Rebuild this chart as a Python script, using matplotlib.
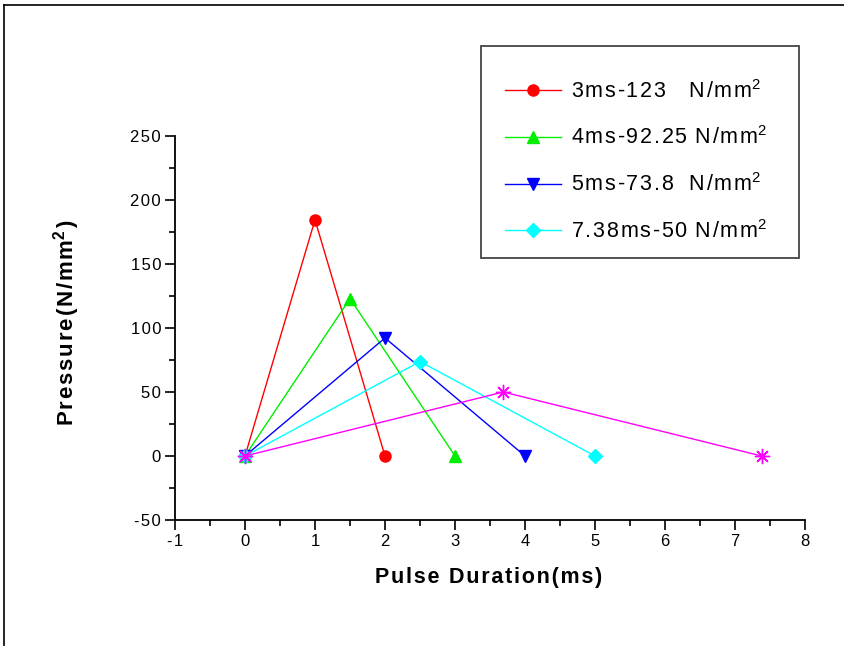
import matplotlib
matplotlib.use("Agg")
import matplotlib.pyplot as plt
from matplotlib.lines import Line2D
from matplotlib.patches import Rectangle
from matplotlib.ticker import MultipleLocator, FuncFormatter

plt.rcParams["font.family"] = ["Liberation Sans", "DejaVu Sans"]
plt.rcParams["mathtext.fontset"] = "custom"
plt.rcParams["mathtext.rm"] = "Liberation Sans"
plt.rcParams["mathtext.it"] = "Liberation Sans"
plt.rcParams["mathtext.bf"] = "Liberation Sans:bold"
plt.rcParams["axes.unicode_minus"] = False

# 数据: 每条曲线的 (脉冲时间, 压力)
red_x = [0, 1, 2]
red_y = [0, 184.5, 0]
green_x = [0, 1.5, 3]
green_y = [0, 123, 0]
blue_x = [0, 2, 4]
blue_y = [0, 92.25, 0]
cyan_x = [0, 2.5, 5]
cyan_y = [0, 73.8, 0]
magenta_x = [0, 3.69, 7.38]
magenta_y = [0, 50, 0]

label_names = ["3ms-123   ", "4ms-92.25 ", "5ms-73.8  ", "7.38ms-50 "]

SP = "\u200a"  # 字间距 (Origin 风格的宽字距)


def spaced(s, sp=SP):
    return sp.join(s)


W, H = 845, 646
fig = plt.figure(figsize=(W / 100, H / 100), dpi=100)
ax = fig.add_axes([175 / W, 1 - 520 / H, 630 / W, 384 / H])

series = [
    (red_x, red_y, "#ff0000", "o", 8),
    (green_x, green_y, "#00ee00", "^", 9),
    (blue_x, blue_y, "#0000ff", "v", 9),
    (cyan_x, cyan_y, "#00ffff", "D", 7),
    (magenta_x, magenta_y, "#ff00ff", (8, 2, 0), 11),
]

handles = []
for xs, ys, c, m, ms in series:
    ln, = ax.plot(xs, ys, color=c, lw=1, marker=m, ms=ms, mec=c, mew=1,
                  clip_on=False)
    handles.append(ln)

ax.set_xlim(-1, 8)
ax.set_ylim(-50, 250)
ax.xaxis.set_major_locator(MultipleLocator(1))
ax.xaxis.set_minor_locator(MultipleLocator(0.5))
ax.yaxis.set_major_locator(MultipleLocator(50))
ax.yaxis.set_minor_locator(MultipleLocator(25))
tick_fmt = FuncFormatter(lambda v, p: spaced("%d" % round(v)))
ax.xaxis.set_major_formatter(tick_fmt)
ax.yaxis.set_major_formatter(tick_fmt)

for s in ["top", "right"]:
    ax.spines[s].set_visible(False)
for s in ["left", "bottom"]:
    ax.spines[s].set_linewidth(1.3)

ax.tick_params(which="major", direction="out", length=7, width=1.2,
               labelsize=12, pad=3)
ax.tick_params(which="minor", direction="out", length=4, width=1.2)

# 坐标轴标题
fig.text(489 / W, 1 - 578 / H, spaced("Pulse Duration(ms)"), fontsize=15.5,
         fontweight="bold", ha="center", va="center")
fig.text(67 / W, 1 - 323 / H, spaced("Pressure(N/mm") + r"$^\mathbf{2}$" + SP + ")",
         fontsize=16, fontweight="bold", ha="center", va="center",
         rotation=90)

# 图例 (外框单独画)
labels = [spaced(n) + spaced("N/mm") + r"$^2$" for n in label_names]
leg = fig.legend(handles[:4], labels, loc="upper left",
                 bbox_to_anchor=(505 / W, 1 - 80 / H), fontsize=15.5,
                 frameon=False, handlelength=2.6, handletextpad=0.45,
                 labelspacing=1.1, borderpad=0, borderaxespad=0)
fig.add_artist(Rectangle((481 / W, 1 - 258 / H), 318 / W, 212 / H,
                         fill=False, edgecolor="#444444", lw=1.3,
                         transform=fig.transFigure))

# 图框 (左边和上边)
fig.add_artist(Line2D([4.5 / W, 4.5 / W], [0, 1 - 5 / H], color="black",
                      lw=1.2, transform=fig.transFigure))
fig.add_artist(Line2D([4.5 / W, 1], [1 - 5 / H, 1 - 5 / H], color="black",
                      lw=1.2, transform=fig.transFigure))

fig.savefig("out.png", dpi=100)
